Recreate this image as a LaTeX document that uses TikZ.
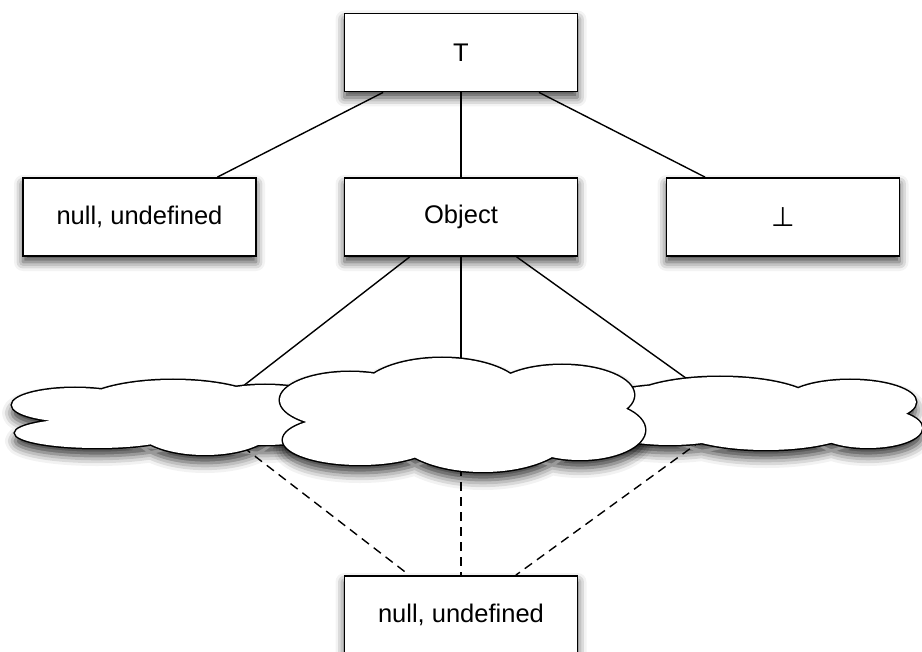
\documentclass[tikz,border=0pt]{standalone}
\usepackage{fontspec}
\setmainfont{Liberation Sans}
\newfontfamily\symfont{DejaVu Sans}
\usetikzlibrary{shadows.blur}

% Each cloud is the union of a few ellipses (lobes).
\def\cloudLeft{%
  (75,405) ellipse [x radius=63pt, y radius=17pt]
  (97,433) ellipse [x radius=82pt, y radius=15pt]
  (173,410) ellipse [x radius=98pt, y radius=30pt]
  (205,425) ellipse [x radius=71pt, y radius=30pt]
  (265,415) ellipse [x radius=80pt, y radius=30pt]}
\def\cloudMid{%
  (442,395) ellipse [x radius=83pt, y radius=37pt]
  (350,400) ellipse [x radius=70pt, y radius=28pt]
  (360,440) ellipse [x radius=77pt, y radius=25pt]
  (483,430) ellipse [x radius=90pt, y radius=42pt]
  (580,430) ellipse [x radius=65pt, y radius=30pt]
  (562,395) ellipse [x radius=72pt, y radius=30pt]}
\def\cloudRight{%
  (720,405) ellipse [x radius=97pt, y radius=28pt]
  (850,402) ellipse [x radius=66pt, y radius=22pt]
  (868,428) ellipse [x radius=54pt, y radius=20pt]
  (766,420) ellipse [x radius=100pt, y radius=30pt]
  (670,415) ellipse [x radius=89pt, y radius=30pt]}

\begin{document}
\begin{tikzpicture}[x=1pt,y=-1pt,
  boxshadow/.style={blur shadow={shadow xshift=0pt, shadow yshift=-6pt,
      shadow blur radius=9pt, shadow opacity=75}},
  box/.style={draw=black, line width=1.8pt, fill=white,
      minimum width=233pt, minimum height=78pt, inner sep=0pt,
      font=\fontsize{25.5}{30}\selectfont, boxshadow},
  cloudshadow/.style={blur shadow={shadow xshift=0pt, shadow yshift=-8pt,
      shadow blur radius=10pt, shadow opacity=80}},
  cloudline/.style={draw=black, line width=3pt},
  link/.style={draw=black, line width=1.4pt},
  weaklink/.style={draw=black, line width=1.4pt, dash pattern=on 9pt off 6pt}]

\useasboundingbox (0,0) rectangle (922,652);

% type boxes
\node[box] (top) at (461,52.5) {T};
\node[box] (nul) at (139.5,217) {null, undefined};
\node[box] (obj) at (461,217) {Object};
\node[box] (bot) at (783,217) {\symfont\fontsize{27}{30}\selectfont ⊥};
\node[box] (und) at (461,615) {null, undefined};

\draw[link] (top) -- (nul);
\draw[link] (top) -- (obj);
\draw[link] (top) -- (bot);

% cloud shadows
\path[cloudshadow] \cloudLeft;
\path[cloudshadow] \cloudRight;
\path[cloudshadow] \cloudMid;

% attachment points on the clouds
\coordinate (lcTop) at (238,390);
\coordinate (mcTop) at (461,362);
\coordinate (rcTop) at (690,381);
\coordinate (lcBot) at (243,447);
\coordinate (mcBot) at (461,467);
\coordinate (rcBot) at (702,440);

\draw[link] (obj) -- (lcTop);
\draw[link] (obj) -- (mcTop);
\draw[link] (obj) -- (rcTop);
\draw[weaklink] (lcBot) -- (und);
\draw[weaklink] (mcBot) -- (und);
\draw[weaklink] (rcBot) -- (und);

% clouds: thick outline of every lobe, then white fill over the inner half
\path[cloudline] \cloudLeft;
\fill[white] \cloudLeft;
\path[cloudline] \cloudRight;
\fill[white] \cloudRight;
\path[cloudline] \cloudMid;
\fill[white] \cloudMid;
\end{tikzpicture}
\end{document}
